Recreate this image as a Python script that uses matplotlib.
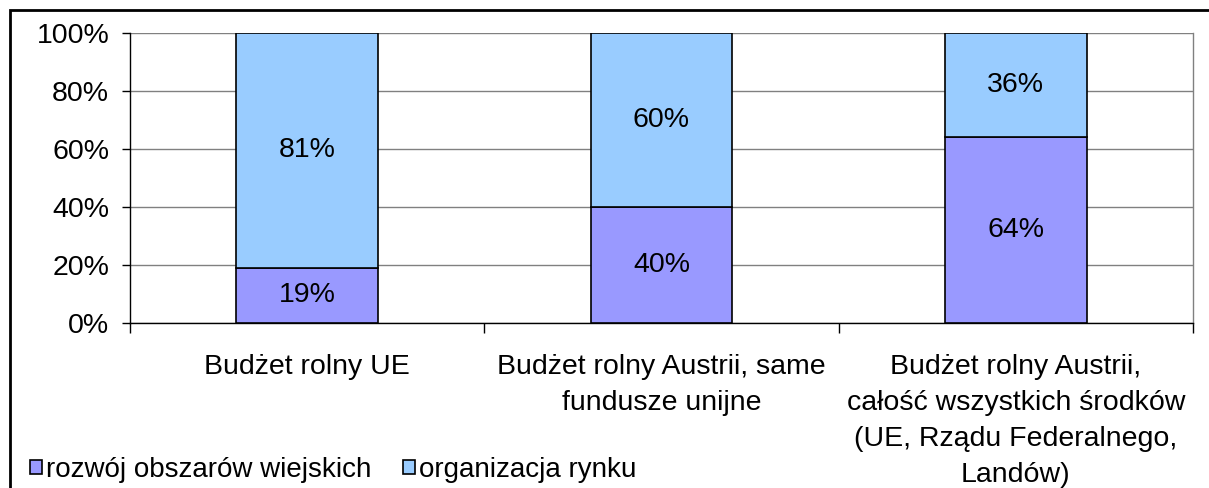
import matplotlib
matplotlib.use("Agg")
import matplotlib.pyplot as plt
from matplotlib.patches import Rectangle
from matplotlib.ticker import FixedLocator, PercentFormatter

plt.rcParams['font.family'] = ['Liberation Sans', 'DejaVu Sans']

categories = [
    "Budżet rolny UE",
    "Budżet rolny Austrii, same\nfundusze unijne",
    "Budżet rolny Austrii,\ncałość wszystkich środków\n(UE, Rządu Federalnego,\nLandów)",
]
series_names = ["rozwój obszarów wiejskich", "organizacja rynku"]
rural = [19, 40, 64]
market = [81, 60, 36]
yticks = [0, 20, 40, 60, 80, 100]

c_rural = "#9999FF"
c_market = "#99CCFF"
FS = 20.5

fig = plt.figure(figsize=(12.09, 4.88), dpi=100)
ax = fig.add_axes([130 / 1209, 1 - 323 / 488, 1063 / 1209, 290 / 488])

x = list(range(len(categories)))
b1 = ax.bar(x, rural, width=0.4, color=c_rural, edgecolor="black", linewidth=1.2, zorder=3)
b2 = ax.bar(x, market, width=0.4, bottom=rural, color=c_market, edgecolor="black", linewidth=1.2, zorder=3)

for xi, r, m in zip(x, rural, market):
    ax.text(xi, r / 2, f"{r}%", ha="center", va="center", fontsize=FS, zorder=4)
    ax.text(xi, r + m / 2, f"{m}%", ha="center", va="center", fontsize=FS, zorder=4)

ax.set_xlim(-0.5, len(categories) - 0.5)
ax.set_ylim(0, 100)
ax.yaxis.set_major_locator(FixedLocator(yticks))
ax.yaxis.set_major_formatter(PercentFormatter(decimals=0))
ax.grid(axis="y", color="#808080", linewidth=1, zorder=0)

# category boundary ticks on x, labels centred under bars
ax.set_xticks([i - 0.5 for i in range(len(categories) + 1)])
ax.set_xticklabels([])
ax.set_xticks(x, minor=True)
ax.set_xticklabels(categories, minor=True, fontsize=FS, linespacing=1.5)
ax.tick_params(axis="x", which="minor", length=0, pad=22)
ax.tick_params(axis="x", which="major", length=7, width=1, color="black", direction="out")
ax.tick_params(axis="y", length=6, width=1, labelsize=FS, pad=9)

for s in ["left", "bottom"]:
    ax.spines[s].set_color("black")
    ax.spines[s].set_linewidth(1)
ax.spines["right"].set_color("#808080")
ax.spines["right"].set_linewidth(1)
ax.spines["top"].set_visible(False)

# legend
leg = fig.legend(
    [b1, b2], series_names,
    loc="lower left", bbox_to_anchor=(19 / 1209, -0.012),
    ncol=2, frameon=False, fontsize=20,
    handlelength=0.42, handleheight=0.42, handletextpad=0.15, columnspacing=1.15,
    borderaxespad=0,
)
for h in leg.legend_handles:
    h.set_edgecolor("black")
    h.set_linewidth(1.2)

# outer chart frame
fig.patches.append(Rectangle((10 / 1209, -0.05), 1.2, 1.05 - 10 / 488,
                             transform=fig.transFigure, fill=False,
                             edgecolor="black", linewidth=2, zorder=0))

fig.savefig("out.png", dpi=100)
